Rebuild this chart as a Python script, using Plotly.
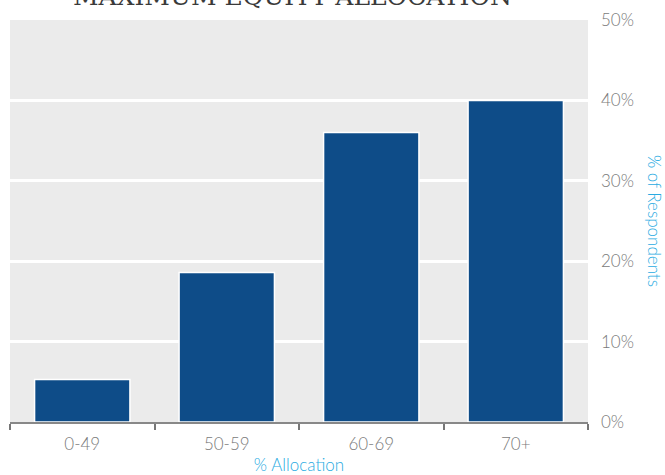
import plotly.graph_objects as go

categories = ["0-49", "50-59", "60-69", "70+"]
values = [5.3, 18.6, 36.0, 40.0]
y_ticks = [0, 10, 20, 30, 40, 50]
y_tick_labels = ["0%", "10%", "20%", "30%", "40%", "50%"]

fig = go.Figure(go.Bar(
    x=categories, y=values,
    marker=dict(color="#0e4c88", line=dict(color="white", width=1.5)),
    hoverinfo="skip",
))

fig.update_layout(
    width=665, height=475,
    margin=dict(l=10, r=77, t=20, b=53),
    paper_bgcolor="white", plot_bgcolor="#ebebeb",
    bargap=0.34, showlegend=False,
    font=dict(family="Lato", color="#7a7a7a", size=17),
    xaxis=dict(
        type="category", tickson="boundaries", ticks="outside", ticklen=6,
        tickcolor="#777777", tickwidth=1.5,
        showline=True, linecolor="#888888", linewidth=2,
        showgrid=False, ticklabelstandoff=6, automargin=False,
        tickfont=dict(size=17, color="#7a7a7a", weight=300),
        title=dict(text="% Allocation", font=dict(color="#29abe2", size=17, weight=300), standoff=8),
    ),
    yaxis=dict(
        side="right", range=[0, 50], tickvals=y_ticks, ticktext=y_tick_labels,
        showgrid=True, gridcolor="white", gridwidth=3, zeroline=False,
        ticks="", ticklabelstandoff=12, automargin=False,
        tickfont=dict(size=17, color="#7a7a7a", weight=300),
    ),
    annotations=[
        dict(text="% of Respondents", textangle=90, xref="paper", yref="paper",
             x=(655 - 10) / 578, y=0.5, xanchor="center", yanchor="middle", showarrow=False,
             font=dict(family="Lato", color="#29abe2", size=17, weight=300)),
        dict(text="MAXIMUM EQUITY ALLOCATION", xref="paper", yref="paper",
             x=(292 - 10) / 578, y=1.0, yshift=7, xanchor="center", yanchor="bottom", showarrow=False,
             font=dict(family="DejaVu Serif", color="#3a3a3a", size=25)),
    ],
)

fig.write_html("out.html", config={"displayModeBar": False},
               post_script="document.body.style.margin='0';")
